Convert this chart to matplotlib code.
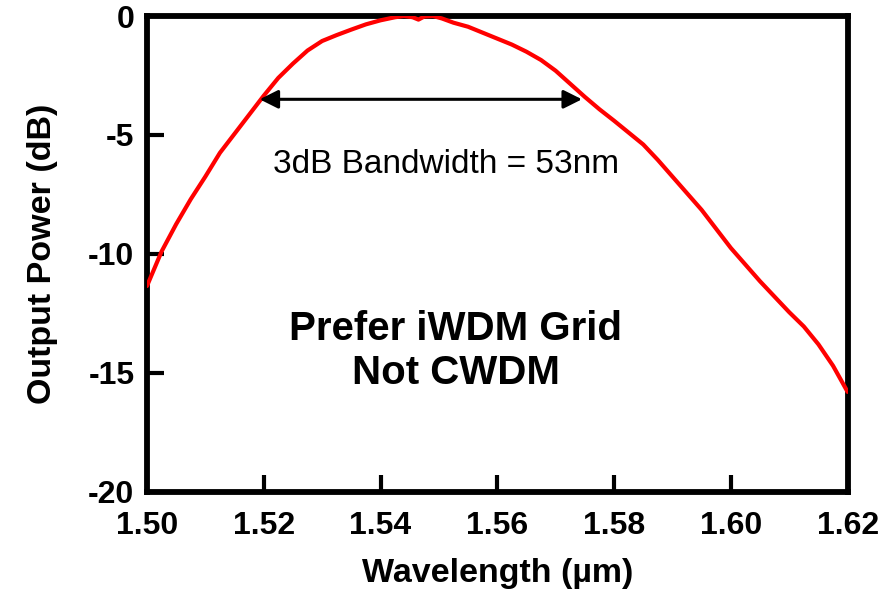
import matplotlib
matplotlib.use("Agg")
import matplotlib.pyplot as plt

# Measured spectral response of the filter
wavelength_um = [1.5000, 1.5025, 1.5050, 1.5075, 1.5100, 1.5125, 1.5150, 1.5175,
                 1.5200, 1.5225, 1.5250, 1.5275, 1.5300, 1.5325, 1.5350, 1.5375,
                 1.5400, 1.5425, 1.5440, 1.5455, 1.5465, 1.5475, 1.5490, 1.5505,
                 1.5525, 1.5550, 1.5575, 1.5600, 1.5625, 1.5650, 1.5675, 1.5700,
                 1.5725, 1.5750, 1.5775, 1.5800, 1.5825, 1.5850, 1.5875, 1.5900,
                 1.5925, 1.5950, 1.5975, 1.6000, 1.6025, 1.6050, 1.6075, 1.6100,
                 1.6125, 1.6150, 1.6175, 1.6200]
power_db = [-11.35, -9.9, -8.75, -7.7, -6.75, -5.75, -4.95, -4.15,
            -3.35, -2.6, -2.0, -1.45, -1.05, -0.8, -0.57, -0.35,
            -0.18, -0.05, 0.0, -0.05, -0.15, -0.02, 0.0, -0.1,
            -0.28, -0.45, -0.7, -0.95, -1.2, -1.5, -1.85, -2.3,
            -2.85, -3.4, -3.92, -4.4, -4.9, -5.4, -6.05, -6.75,
            -7.45, -8.15, -8.95, -9.75, -10.45, -11.15, -11.8, -12.45,
            -13.05, -13.8, -14.7, -15.8]

xticks = [1.50, 1.52, 1.54, 1.56, 1.58, 1.60, 1.62]
xtick_labels = ["1.50", "1.52", "1.54", "1.56", "1.58", "1.60", "1.62"]
yticks = [0, -5, -10, -15, -20]
ytick_labels = ["0", "-5", "-10", "-15", "-20"]

band_lo, band_hi, band_level = 1.5193, 1.5745, -3.5

plt.rcParams['font.family'] = ['Liberation Sans', 'DejaVu Sans']

fig = plt.figure(figsize=(8.96, 5.94), dpi=100)
ax = fig.add_axes([0.164, 0.172, 0.782, 0.801])

ax.plot(wavelength_um, power_db, color='#ff0000', lw=3.0,
        solid_capstyle='round', solid_joinstyle='round', zorder=3)

ax.set_xlim(1.50, 1.62)
ax.set_ylim(-20, 0)
ax.set_xticks(xticks)
ax.set_xticklabels(xtick_labels)
ax.set_yticks(yticks)
ax.set_yticklabels(ytick_labels)

for s in ax.spines.values():
    s.set_linewidth(4.2)
ax.tick_params(direction='in', length=12, width=3, labelsize=23)
ax.tick_params(axis='x', pad=14)
ax.tick_params(axis='y', pad=9)
for lab in ax.get_xticklabels() + ax.get_yticklabels():
    lab.set_fontweight('bold')

ax.set_xlabel("Wavelength (µm)", fontsize=24.5, fontweight='bold', labelpad=12)
ax.set_ylabel("Output Power (dB)", fontsize=24.5, fontweight='bold', labelpad=22)

ax.annotate("", xy=(band_lo, band_level), xytext=(band_hi, band_level),
            arrowprops=dict(arrowstyle='<|-|>', color='black', lw=2.2,
                            mutation_scale=28, shrinkA=0, shrinkB=0))
ax.text(1.5513, -6.25, "3dB Bandwidth = 53nm", fontsize=24, ha='center', va='center')
ax.text(1.5529, -14.1, "Prefer iWDM Grid\nNot CWDM", fontsize=29, fontweight='bold',
        ha='center', va='center', linespacing=1.2)

fig.savefig("out.png", dpi=100)
